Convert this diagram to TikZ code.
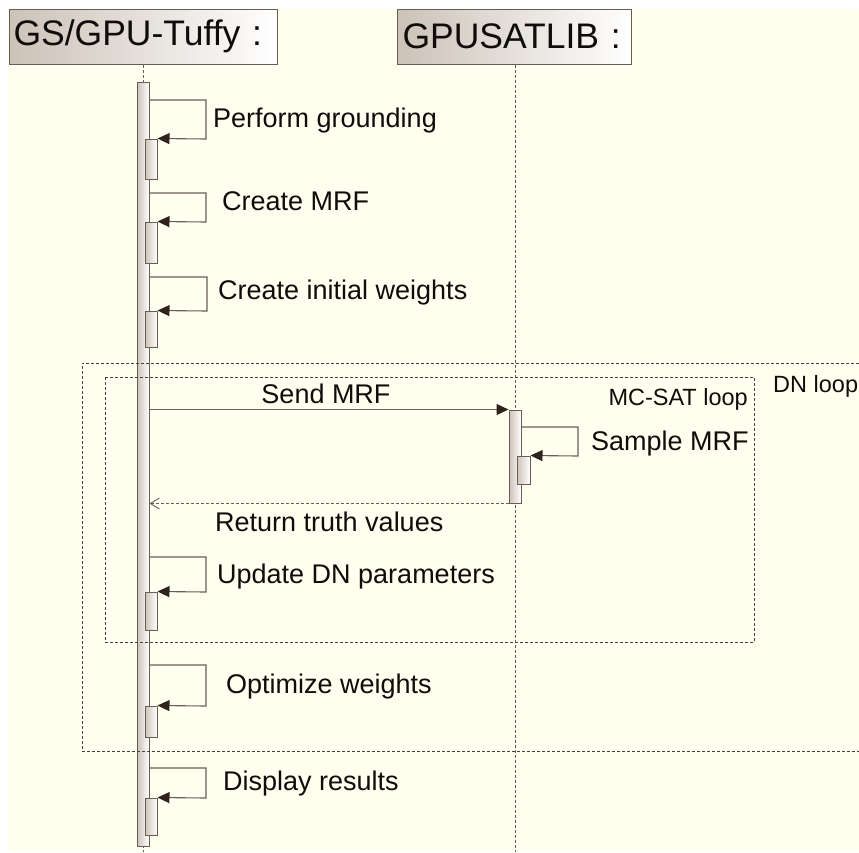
\documentclass[tikz,border=0pt]{standalone}
\usepackage{fontspec}
\setmainfont{Liberation Sans}
\usetikzlibrary{arrows.meta}
\definecolor{paper}{RGB}{255,255,240}
\definecolor{edge}{RGB}{104,94,86}
\definecolor{shadeL}{RGB}{204,194,184}
\definecolor{tipc}{RGB}{48,34,28}
\definecolor{ink}{RGB}{15,12,10}
\begin{document}
\begin{tikzpicture}[x=1pt,y=-1pt,
  head/.style={draw=edge, line width=1pt, left color=shadeL, right color=white,
    anchor=west, minimum height=55pt, inner xsep=4pt, inner ysep=0pt, align=left,
    font=\fontsize{35.5}{40}\selectfont, text=ink},
  act/.style={draw=edge, line width=1pt, left color=shadeL, right color=white,
    minimum width=12pt, inner sep=0pt},
  msg/.style={draw=edge, line width=1.1pt, -{Triangle[length=12pt,width=11pt,color=tipc]}},
  reply/.style={draw=edge, line width=0.9pt, dash pattern=on 3pt off 2pt,
    -{Straight Barb[length=9pt,width=11pt]}},
  lifeline/.style={draw=edge, line width=0.8pt, dash pattern=on 3pt off 2pt},
  frame/.style={draw=edge!70!black, line width=1pt, dash pattern=on 3pt off 2pt},
  lbl/.style={anchor=base west, inner sep=0pt, font=\fontsize{27}{30}\selectfont, text=ink},
  flbl/.style={inner sep=0pt, font=\fontsize{23.5}{26}\selectfont, text=ink}
]
\useasboundingbox (0,0) rectangle (859,852);
\fill[white] (0,0) rectangle (859,852);
\fill[paper] (8,9) rectangle (859,852);

% lifeline heads
\node[head, text width=260pt] (gs) at (9,36.5) {GS/GPU-Tuffy :};
\node[head, text width=224pt, inner xsep=5pt] (gp) at (397,36.5) {GPUSATLIB :};

% lifelines
\draw[lifeline] (gs.south) -- (gs.south |- 0,852);
\draw[lifeline] (gp.south) ++(1,0) coordinate (gpl) -- (gpl |- 0,852);

% activation bars
\node[act, minimum height=764pt] (a0) at (143,464) {};
\node[act, minimum height=40pt] (s1) at (151,159) {};
\node[act, minimum height=41pt] (s2) at (151,242.5) {};
\node[act, minimum height=36pt] (s3) at (151,329) {};
\node[act, minimum height=38pt] (s4) at (151,611) {};
\node[act, minimum height=31pt] (s5) at (151,721.5) {};
\node[act, minimum height=37pt] (s6) at (151,816.5) {};
\node[act, minimum height=93pt] (b1) at (515,456.5) {};
\node[act, minimum width=13pt, minimum height=28pt] (b2) at (523.5,470) {};

% self messages
\draw[msg] (a0.east |- 0,100) -- (206,100) -- (206,139) -- (s1.north east);
\draw[msg] (a0.east |- 0,193) -- (206,193) -- (206,222) -- (s2.north east);
\draw[msg] (a0.east |- 0,277) -- (207,277) -- (207,311) -- (s3.north east);
\draw[msg] (a0.east |- 0,557) -- (206,557) -- (206,592) -- (s4.north east);
\draw[msg] (a0.east |- 0,665) -- (206,665) -- (206,706) -- (s5.north east);
\draw[msg] (a0.east |- 0,768) -- (206,768) -- (206,798) -- (s6.north east);
\draw[msg] (b1.east |- 0,427) -- (578,427) -- (578,456) -- (b2.north east);

% calls between lifelines
\draw[msg] (a0.east |- b1.north) -- (b1.north west);
\draw[reply] (b1.south west) -- (a0.east |- b1.south);

% combined fragments
\draw[frame] (859,363) -- (82,363) -- (82,751) -- (859,751);
\draw[frame] (105,377) rectangle (754,642);
\node[flbl, anchor=base west] (dnl) at (773,392) {DN loop};
\node[flbl, anchor=base east] (mcl) at (748,405) {MC-SAT loop};

% message labels
\node[lbl] (t1) at (213,127) {Perform grounding};
\node[lbl] (t2) at (222,210) {Create MRF};
\node[lbl] (t3) at (218,299) {Create initial weights};
\node[lbl, anchor=base] (t4) at (326,403) {Send MRF};
\node[lbl] (t5) at (591,450) {Sample MRF};
\node[lbl] (t6) at (215,531) {Return truth values};
\node[lbl] (t7) at (217,583) {Update DN parameters};
\node[lbl] (t8) at (226,693) {Optimize weights};
\node[lbl] (t9) at (223,790) {Display results};
\end{tikzpicture}
\end{document}
